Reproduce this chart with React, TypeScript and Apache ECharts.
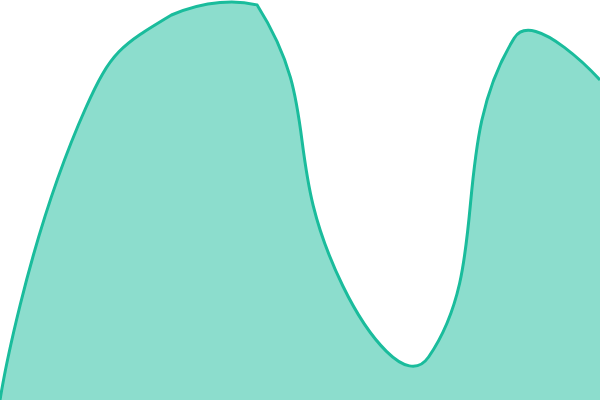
import { useRef, useEffect } from 'react'
import * as echarts from 'echarts'

const categories = ['1', '2', '3', '4', '5', '6', '7', '8']
const values = [0, 73, 96.25, 98.75, 28.5, 10.75, 90.5, 80]

const lineColor = '#1abc9c'
const areaColor = 'rgba(26, 188, 156, 0.5)'

// classic smoothing: tangent along next - prev, control points kept inside the plot box
function smoothPath(pts: number[][], smooth: number, box: { x: number, y: number, width: number, height: number }) {
  const min = [box.x, box.y]
  const max = [box.x + box.width, box.y + box.height]
  const clamp = (c: number[]) => [
    Math.max(min[0], Math.min(max[0], c[0])),
    Math.max(min[1], Math.min(max[1], c[1]))
  ]
  let d = `M${pts[0][0]} ${pts[0][1]}`
  let cp0 = [pts[0][0], pts[0][1]]
  for (let i = 1; i < pts.length; i++) {
    const p = pts[i]
    const prev = pts[i - 1]
    const next = pts[i + 1]
    let cp1 = [p[0], p[1]]
    let v = [0, 0]
    let ratio = 0.5
    if (next) {
      v = [next[0] - prev[0], next[1] - prev[1]]
      const l0 = Math.hypot(p[0] - prev[0], p[1] - prev[1])
      const l1 = Math.hypot(next[0] - p[0], next[1] - p[1])
      ratio = l1 / (l0 + l1)
      cp1 = [p[0] - v[0] * smooth * (1 - ratio), p[1] - v[1] * smooth * (1 - ratio)]
    }
    const a = clamp(cp0)
    const b = clamp(cp1)
    d += ` C${a[0]} ${a[1]} ${b[0]} ${b[1]} ${p[0]} ${p[1]}`
    cp0 = [p[0] + v[0] * smooth * ratio, p[1] + v[1] * smooth * ratio]
  }
  return d
}

function App() {
  const chartRef = useRef<HTMLDivElement>(null)

  useEffect(() => {
    if (!chartRef.current) return
    const myChart = echarts.init(chartRef.current, null, { renderer: 'svg' })
    const option = {
      animation: false,
      grid: { left: 0, right: 0, top: 0, bottom: 0 },
      xAxis: {
        type: 'category',
        data: categories,
        boundaryGap: false,
        show: false
      },
      yAxis: {
        type: 'value',
        min: 0,
        max: 100,
        show: false
      },
      series: [{
        type: 'custom',
        data: values.map((v, i) => [i, v]),
        encode: { x: 0, y: 1 },
        renderItem: (params: any, api: any) => {
          if (params.dataIndex !== 0) return null
          const pts = values.map((v, i) => api.coord([i, v]))
          const base = api.coord([0, 0])[1]
          const line = smoothPath(pts, 0.5, params.coordSys)
          const last = pts[pts.length - 1]
          const area = `${line} L${last[0]} ${base} L${pts[0][0]} ${base} Z`
          return {
            type: 'group',
            children: [
              { type: 'path', shape: { pathData: area }, style: { fill: areaColor } },
              { type: 'path', shape: { pathData: line }, style: { fill: 'none', stroke: lineColor, lineWidth: 3 } }
            ]
          }
        }
      }]
    }
    myChart.setOption(option)
    return () => {
      myChart.dispose()
    }
  }, [])

  return (
    <div ref={chartRef} style={{ position: 'fixed', left: 0, top: 0, width: '600px', height: '400px' }}></div>
  )
}

export default App
